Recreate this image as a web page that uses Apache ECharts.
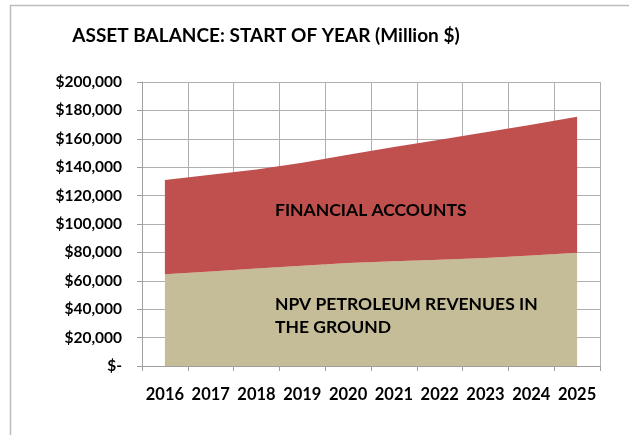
<!DOCTYPE html>
<html>
<head>
<meta charset="utf-8">
<script src="https://cdn.jsdelivr.net/npm/echarts@6/dist/echarts.min.js"></script>
<style>
  html, body { margin: 0; padding: 0; background: #fff; }
  #chart { width: 629px; height: 435px; }
</style>
</head>
<body>
<div id="chart"></div>
<script>
// years on the category axis
var years = ['2016', '2017', '2018', '2019', '2020', '2021', '2022', '2023', '2024', '2025']
// NPV petroleum revenues in the ground (bottom layer)
var npvPetroleum = [64600, 66600, 68700, 70600, 72500, 73800, 74800, 76000, 77800, 79800]
// financial accounts (stacked on top)
var financialAccounts = [66400, 68000, 69700, 72500, 76200, 80400, 84600, 88600, 92100, 95800]

var font = 'Lato, "Open Sans", sans-serif'

function money(v) {
  if (v === 0) return '$-'
  return '$' + v.toLocaleString('en-US')
}

var chart = echarts.init(document.getElementById('chart'))
chart.setOption({
  animation: false,
  title: {
    text: 'ASSET BALANCE: START OF YEAR (Million $)',
    left: 261,
    top: 21,
    textAlign: 'center',
    textStyle: { fontFamily: font, fontSize: 19, fontWeight: 'bold', color: '#000' }
  },
  grid: { left: 142, right: 29, top: 82, bottom: 69 },
  xAxis: {
    type: 'category',
    data: years,
    boundaryGap: true,
    axisLine: { lineStyle: { color: '#a0a0a0', width: 1 } },
    axisTick: { show: true, interval: 0, length: 5, lineStyle: { color: '#a0a0a0' } },
    splitLine: { show: true, interval: 0, lineStyle: { color: '#b0b0b0', width: 1 } },
    axisLabel: { interval: 0, margin: 20, fontFamily: font, fontSize: 16.5, fontWeight: 'bold', color: '#000' }
  },
  yAxis: {
    type: 'value',
    min: 0,
    max: 200000,
    interval: 20000,
    axisLine: { show: true, lineStyle: { color: '#a0a0a0' } },
    axisTick: { show: true, length: 5, lineStyle: { color: '#a0a0a0' } },
    splitLine: { show: true, lineStyle: { color: '#b0b0b0', width: 1 } },
    axisLabel: {
      margin: 20,
      formatter: money,
      fontFamily: font, fontSize: 15.5, fontWeight: 'bold', color: '#000'
    }
  },
  series: [
    {
      name: 'NPV PETROLEUM REVENUES IN THE GROUND',
      type: 'line',
      stack: 'total',
      data: npvPetroleum,
      symbol: 'none',
      lineStyle: { width: 0 },
      areaStyle: { color: '#c4bd97', opacity: 1 }
    },
    {
      name: 'FINANCIAL ACCOUNTS',
      type: 'line',
      stack: 'total',
      data: financialAccounts,
      symbol: 'none',
      lineStyle: { width: 0 },
      areaStyle: { color: '#c0504d', opacity: 1 }
    }
  ],
  graphic: [
    {
      type: 'rect',
      z: 100,
      shape: { x: 10.5, y: 5.5, width: 700, height: 500 },
      style: { fill: 'none', stroke: '#bdbdbd', lineWidth: 1.5 },
      silent: true
    },
    {
      type: 'text',
      z: 100,
      left: 275,
      top: 201,
      style: { text: 'FINANCIAL ACCOUNTS', font: 'bold 17.5px ' + font, fill: '#000' }
    },
    {
      type: 'text',
      z: 100,
      left: 275,
      top: 293,
      style: { text: 'NPV PETROLEUM REVENUES IN\nTHE GROUND', font: 'bold 17.5px ' + font, fill: '#000', lineHeight: 23 }
    }
  ]
})
</script>
</body>
</html>
